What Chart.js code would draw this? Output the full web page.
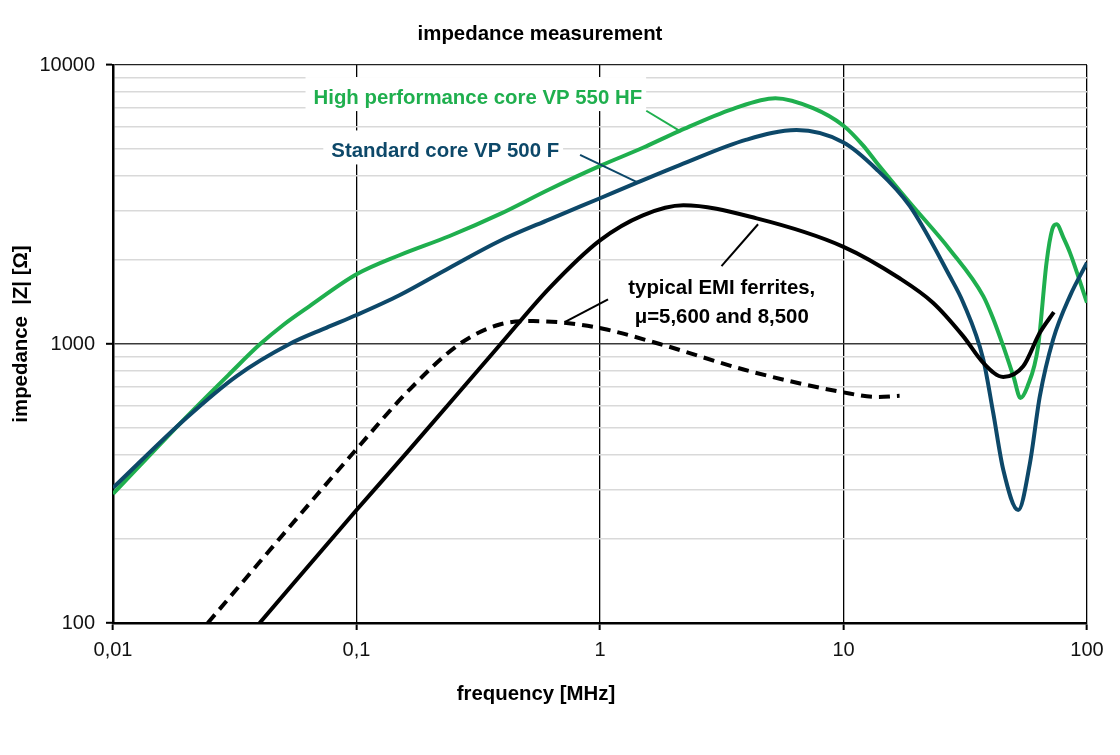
<!DOCTYPE html>
<html><head><meta charset="utf-8">
<script src="https://cdn.jsdelivr.net/npm/chart.js@4.4.1/dist/chart.umd.min.js"></script>
<style>html,body{margin:0;padding:0;background:#fff}#wrap{width:1120px;height:755px;position:relative}</style>
</head><body><div id="wrap"><canvas id="c"></canvas></div>
<script>
// ---- data (frequency in MHz, impedance in Ohm) ----
const hfFreq = [0.01, 0.02, 0.03, 0.04, 0.05, 0.0642, 0.1, 0.15, 0.2413, 0.387, 0.621, 1, 1.5, 2.125, 3.5, 5.25, 7.5, 10, 12, 13.66, 18.7, 27.3, 37.5, 41, 45.3, 50, 53.3, 57, 63, 68.2, 72, 75, 80, 85.1, 100];
const hfImp  = [290, 547, 779, 995, 1170, 1367, 1777, 2080, 2438, 2920, 3587, 4348, 5050, 5808, 6950, 7600, 7000, 6055, 5160, 4474, 3214, 2183, 1485, 1245, 982, 760, 641, 706, 982, 1957, 2577, 2686, 2406, 2126, 1406];

const stdFreq = [0.01, 0.02, 0.0321, 0.0531, 0.0751, 0.1, 0.15, 0.2413, 0.387, 0.621, 1, 1.426, 2.125, 4, 6.41, 10, 13.66, 18.7, 27.3, 31, 37.5, 41.2, 45.3, 52.2, 58.3, 64, 72.6, 85.1, 100];
const stdImp  = [305, 543, 766, 1000, 1143, 1270, 1495, 1877, 2340, 2799, 3330, 3793, 4375, 5400, 5843, 5277, 4232, 3125, 1752, 1409, 880, 566, 354, 254, 374, 649, 1038, 1485, 1957];

const emiAFreq = [0.04, 0.1, 0.165, 0.387, 0.621, 1, 1.5, 2.2, 4.4, 10, 17, 23.3, 31, 37.5, 45.3, 54.7, 64, 73.1];
const emiAImp  = [100, 254, 418, 990, 1590, 2353, 2893, 3143, 2820, 2230, 1720, 1406, 1067, 856, 762, 832, 1097, 1301];

const emiBFreq = [0.0245, 0.1, 0.165, 0.265, 0.387, 0.531, 0.728, 1.03, 1.76, 4.12, 10, 13.7, 17];
const emiBImp  = [100, 420, 686, 1000, 1175, 1208, 1190, 1134, 1000, 799, 671, 646, 652];

const xTickValues = [0.01, 0.1, 1, 10, 100];
const xTickLabels = ['0,01', '0,1', '1', '10', '100'];
const yMajorValues = [100, 1000, 10000];
const yMajorLabels = ['100', '1000', '10000'];
const yMinorValues = [200, 300, 400, 500, 600, 700, 800, 900, 2000, 3000, 4000, 5000, 6000, 7000, 8000, 9000];

const chartTitle = 'impedance measurement';
const xTitle = 'frequency [MHz]';
const yTitle = 'impedance  |Z| [\u03A9]';
const hfLabel = 'High performance core VP 550 HF';
const stdLabel = 'Standard core VP 500 F';
const emiLabel = ['typical EMI ferrites,', '\u03BC=5,600 and 8,500'];

// ---- styling ----
const FONT = "'Liberation Sans', Arial, Helvetica, sans-serif";
const GREEN = '#1FAF4E';
const BLUE = '#0D4869';

function pts(fs, zs) { return fs.map((f, i) => ({ x: f, y: zs[i] })); }

// annotation anchors in data coordinates
const notes = {
  hf:  { f: 0.0666, z: 7244, leader: [[1.549, 6855], [2.125, 5808]] },
  std: { f: 0.0788, z: 4663, leader: [[0.828, 4763], [1.426, 3793]] },
  emi: { f: 3.162, z1: 1506, z2: 1192, leaders: [[[3.155, 1903], [4.457, 2687]], [[0.716, 1198], [1.079, 1445]]] }
};

const labelFont = 'bold 20.4px ' + FONT;

const annoPlugin = {
  id: 'anno',
  beforeDatasetsDraw(chart) {
    const ctx = chart.ctx, xs = chart.scales.x, ys = chart.scales.y;
    ctx.save();
    ctx.font = labelFont;
    ctx.fillStyle = '#fff';
    [[hfLabel, notes.hf], [stdLabel, notes.std]].forEach(([t, n]) => {
      const x = xs.getPixelForValue(n.f), y = ys.getPixelForValue(n.z);
      const w = ctx.measureText(t).width;
      ctx.fillRect(x - 8, y - 27, w + 12, 34);
    });
    ctx.restore();
  },
  afterDatasetsDraw(chart) {
    const ctx = chart.ctx, xs = chart.scales.x, ys = chart.scales.y;
    const P = (p) => [xs.getPixelForValue(p[0]), ys.getPixelForValue(p[1])];
    ctx.save();
    const line = (seg, color, w) => {
      const a = P(seg[0]), b = P(seg[1]);
      ctx.beginPath(); ctx.moveTo(a[0], a[1]); ctx.lineTo(b[0], b[1]);
      ctx.strokeStyle = color; ctx.lineWidth = w; ctx.stroke();
    };
    line(notes.hf.leader, GREEN, 2);
    line(notes.std.leader, BLUE, 2);
    notes.emi.leaders.forEach(s => line(s, '#000', 2));
    ctx.font = labelFont;
    ctx.textBaseline = 'alphabetic';
    ctx.textAlign = 'left';
    ctx.fillStyle = GREEN;
    ctx.fillText(hfLabel, xs.getPixelForValue(notes.hf.f), ys.getPixelForValue(notes.hf.z));
    ctx.fillStyle = BLUE;
    ctx.fillText(stdLabel, xs.getPixelForValue(notes.std.f), ys.getPixelForValue(notes.std.z));
    ctx.fillStyle = '#000';
    ctx.textAlign = 'center';
    ctx.fillText(emiLabel[0], xs.getPixelForValue(notes.emi.f), ys.getPixelForValue(notes.emi.z1));
    ctx.fillText(emiLabel[1], xs.getPixelForValue(notes.emi.f), ys.getPixelForValue(notes.emi.z2));
    ctx.restore();
  },
  afterDraw(chart) {
    const ctx = chart.ctx;
    ctx.save();
    ctx.fillStyle = '#000';
    ctx.font = 'bold 20.4px ' + FONT;
    ctx.textAlign = 'center';
    ctx.textBaseline = 'alphabetic';
    ctx.fillText(chartTitle, 540, 40);
    ctx.fillText(xTitle, 536, 700);
    ctx.translate(27, 334);
    ctx.rotate(-Math.PI / 2);
    ctx.fillText(yTitle, 0, 0);
    ctx.restore();
  }
};

const ds = (f, z, color, dash) => ({
  data: pts(f, z), showLine: true, borderColor: color, backgroundColor: color,
  borderWidth: 4, borderDash: dash || [], pointRadius: 0, pointHoverRadius: 0,
  cubicInterpolationMode: 'monotone', fill: false
});

new Chart(document.getElementById('c'), {
  type: 'scatter',
  data: {
    datasets: [
      ds(emiBFreq, emiBImp, '#000', [11, 7]),
      ds(emiAFreq, emiAImp, '#000'),
      ds(stdFreq, stdImp, BLUE),
      ds(hfFreq, hfImp, GREEN)
    ]
  },
  options: {
    responsive: true, maintainAspectRatio: false, animation: false,
    events: [],
    layout: { padding: { top: 65, right: 33, left: 0, bottom: 0 } },
    plugins: { legend: { display: false }, tooltip: { enabled: false }, title: { display: false } },
    scales: {
      x: {
        type: 'logarithmic', min: 0.01, max: 100,
        afterBuildTicks: (s) => { s.ticks = xTickValues.map(v => ({ value: v })); },
        afterFit: (s) => { s.height = 132; },
        ticks: {
          autoSkip: false, maxRotation: 0, padding: 8, color: '#111',
          font: { family: FONT, size: 20 },
          callback: (v) => { const i = xTickValues.indexOf(v); return i >= 0 ? xTickLabels[i] : ''; }
        },
        grid: {
          color: (c) => (c.tick && c.tick.value === 0.01) ? 'rgba(0,0,0,0)' : '#000',
          lineWidth: 1.3, tickLength: 7, tickWidth: 2, tickColor: '#000', drawTicks: true
        },
        border: { display: true, color: '#000', width: 2.5 }
      },
      y: {
        type: 'logarithmic', min: 100, max: 10000,
        afterBuildTicks: (s) => {
          s.ticks = yMajorValues.concat(yMinorValues).sort((a, b) => a - b).map(v => ({ value: v }));
        },
        afterFit: (s) => { s.width = 113; },
        ticks: {
          autoSkip: false, padding: 11, color: '#111',
          font: { family: FONT, size: 20 },
          callback: (v) => { const i = yMajorValues.indexOf(v); return i >= 0 ? yMajorLabels[i] : ''; }
        },
        grid: {
          color: (c) => {
            const v = c.tick ? c.tick.value : 0;
            if (v === 100) return 'rgba(0,0,0,0)';
            if (v === 1000) return '#3a3a3a';
            if (v === 10000) return '#222';
            return '#d9d9d9';
          },
          lineWidth: (c) => (c.tick && c.tick.value === 10000) ? 1.2 : 1.6,
          tickLength: 7, tickWidth: 2,
          tickColor: (c) => (c.tick && yMajorValues.indexOf(c.tick.value) >= 0) ? '#000' : 'rgba(0,0,0,0)'
        },
        border: { display: true, color: '#000', width: 2.5 }
      }
    }
  },
  plugins: [annoPlugin]
});
</script>
</body></html>
